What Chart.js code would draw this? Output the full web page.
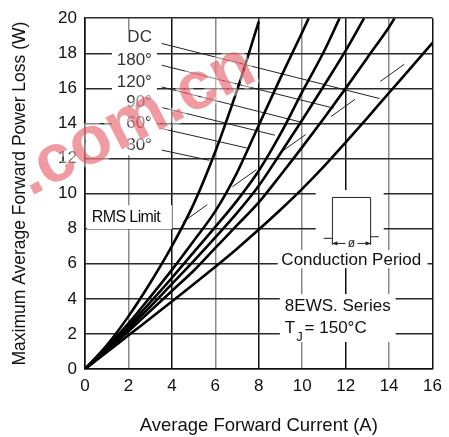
<!DOCTYPE html>
<html>
<head>
<meta charset="utf-8">
<script src="https://cdn.jsdelivr.net/npm/chart.js@4.4.1/dist/chart.umd.min.js"></script>
<style>
  html, body { margin: 0; padding: 0; background: #fff; overflow: hidden; }
  #wrap { width: 449px; height: 437px; }
</style>
</head>
<body>
<div id="wrap"><canvas id="chart"></canvas></div>
<script>
// axis ticks
const currentTicks = [0, 2, 4, 6, 8, 10, 12, 14, 16];
const lossTicks = [0, 2, 4, 6, 8, 10, 12, 14, 16, 18, 20];

// curves: average current (A) -> power loss (W)
const current30 = [0, 1, 2, 3, 4, 5, 6, 7, 8];
const loss30 = [0, 1.35, 3.0, 4.9, 7.0, 9.4, 12.4, 15.9, 19.8];
const current60 = [0, 1, 2, 3, 4, 5, 6, 7, 8, 9, 10, 10.3];
const loss60 = [0, 1.25, 2.6, 4.1, 5.65, 7.3, 9.0, 11.2, 13.9, 16.6, 19.2, 20];
const current90 = [0, 1, 2, 3, 4, 5, 6, 7, 8, 9, 10, 11, 11.72];
const loss90 = [0, 1.2, 2.45, 3.8, 5.2, 6.65, 8.1, 9.6, 11.3, 13.4, 15.8, 18.1, 20];
const current120 = [0, 1, 2, 3, 4, 5, 6, 7, 8, 9, 10, 11, 12, 12.85];
const loss120 = [0, 1.15, 2.3, 3.55, 4.85, 6.15, 7.5, 8.9, 10.45, 12.3, 14.2, 16.15, 18.15, 20];
const current180 = [0, 1, 2, 3, 4, 5, 6, 7, 8, 9, 10, 11, 12, 13, 14, 14.25];
const loss180 = [0, 1.05, 2.15, 3.3, 4.45, 5.6, 6.9, 8.2, 9.5, 11.05, 12.65, 14.3, 16.0, 17.75, 19.5, 20];
const currentDC = [0, 1, 2, 3, 4, 5, 6, 7, 8, 9, 10, 11, 12, 13, 14, 15, 16];
const lossDC = [0, 0.95, 1.92, 2.88, 3.85, 4.83, 5.83, 6.86, 7.95, 9.08, 10.27, 11.55, 12.92, 14.32, 15.75, 17.17, 18.6];

// curve labels and their leader lines (A / W)
const curveLabels = ["DC", "180°", "120°", "90°", "60°", "30°"];
const labelLoss = [18.93, 17.59, 16.37, 15.23, 14.03, 12.76];
const leaderStartX = [3.53, 3.53, 3.53, 3.53, 3.53, 3.53];
const leaderStartY = [18.56, 17.32, 16.08, 14.91, 13.71, 12.48];
const leaderEndX = [13.56, 11.45, 9.89, 8.74, 7.45, 5.72];
const leaderEndY = [15.42, 14.87, 14.09, 13.33, 12.6, 11.9];

// RMS limit line
const rmsCurrent = [4.52, 14.82];
const rmsLoss = [8.39, 17.48];

const FONT = '"Liberation Sans", Arial, sans-serif';
const toPts = (xs, ys) => xs.map((x, i) => ({ x: x, y: ys[i] }));

function curve(xs, ys) {
    return {
        data: toPts(xs, ys),
        borderColor: "#000",
        borderWidth: 2.6,
        pointRadius: 0,
        cubicInterpolationMode: "monotone",
        fill: false
    };
}

const datasets = [
    curve(current30, loss30),
    curve(current60, loss60),
    curve(current90, loss90),
    curve(current120, loss120),
    curve(current180, loss180),
    curve(currentDC, lossDC)
];

leaderStartX.forEach((x, i) => {
    datasets.push({
        data: [{ x: x, y: leaderStartY[i] }, { x: leaderEndX[i], y: leaderEndY[i] }],
        borderColor: "#222",
        borderWidth: 1,
        pointRadius: 0
    });
});

datasets.push({
    data: toPts(rmsCurrent, rmsLoss),
    borderColor: "#222",
    borderWidth: 1,
    borderDash: [29.5, 31],
    pointRadius: 0
});

// white boxes behind the texts (A / W corners)
const boxes = [
    [1.24, 19.32, 3.31, 12.19],
    [0.09, 9.34, 4.0, 7.98],
    [10.62, 10.2, 13.75, 6.78],
    [8.87, 6.78, 15.77, 5.75],
    [8.97, 4.27, 14.3, 1.54]
];

const notes = {
    id: "notes",
    beforeDatasetsDraw(chart) {
        const { ctx, scales: { x, y } } = chart;
        ctx.save();
        ctx.fillStyle = "#fff";
        boxes.forEach(b => {
            const x0 = x.getPixelForValue(b[0]), y0 = y.getPixelForValue(b[1]);
            const x1 = x.getPixelForValue(b[2]), y1 = y.getPixelForValue(b[3]);
            ctx.fillRect(x0, y0, x1 - x0, y1 - y0);
        });
        ctx.restore();
    },
    afterDatasetsDraw(chart) {
        const { ctx, scales: { x, y } } = chart;
        const px = v => x.getPixelForValue(v);
        const py = v => y.getPixelForValue(v);
        ctx.save();
        ctx.textBaseline = "middle";

        // curve labels
        ctx.font = "17px " + FONT;
        ctx.fillStyle = "#333";
        ctx.textAlign = "right";
        curveLabels.forEach((t, i) => ctx.fillText(t, px(3.08), py(labelLoss[i])));

        ctx.fillStyle = "#111";
        ctx.textAlign = "left";
        ctx.font = "16px " + FONT;
        ctx.letterSpacing = "-0.6px";
        ctx.fillText("RMS Limit", px(0.31), py(8.64));
        ctx.letterSpacing = "0px";

        ctx.font = "17px " + FONT;
        ctx.fillText("Conduction Period", px(9.04), py(6.21));
        ctx.fillText("8EWS. Series", px(9.2), py(3.55));
        ctx.fillText("T", px(9.2), py(2.32));
        ctx.font = "13px " + FONT;
        ctx.fillText("J", px(9.72), py(1.82));
        ctx.font = "17px " + FONT;
        ctx.fillText("= 150°C", px(10.11), py(2.32));

        // conduction period sketch
        ctx.strokeStyle = "#222";
        ctx.lineWidth = 1;
        const L = px(11.39), R = px(13.15), T = py(9.78);
        const baseL = py(7.45), baseR = py(7.54), low = py(7.07), arr = py(7.16);
        ctx.beginPath();
        ctx.moveTo(px(10.99), baseL); ctx.lineTo(L, baseL);
        ctx.moveTo(L, low); ctx.lineTo(L, T); ctx.lineTo(R, T); ctx.lineTo(R, low);
        ctx.moveTo(R, baseR); ctx.lineTo(px(13.53), baseR);
        const mid = (L + R) / 2;
        ctx.moveTo(L, arr); ctx.lineTo(mid - 6, arr);
        ctx.moveTo(mid + 6, arr); ctx.lineTo(R, arr);
        ctx.stroke();
        ctx.fillStyle = "#222";
        ctx.beginPath();
        ctx.moveTo(L, arr); ctx.lineTo(L + 5, arr - 2.2); ctx.lineTo(L + 5, arr + 2.2); ctx.closePath();
        ctx.moveTo(R, arr); ctx.lineTo(R - 5, arr - 2.2); ctx.lineTo(R - 5, arr + 2.2); ctx.closePath();
        ctx.fill();
        ctx.font = "12px " + FONT;
        ctx.textAlign = "center";
        ctx.fillText("ø", mid, arr);
        ctx.restore();
    },
    afterDraw(chart) {
        // red site watermark
        const ctx = chart.ctx;
        ctx.save();
        ctx.translate(136, 121);
        ctx.rotate(-0.475);
        ctx.font = "bold 68px " + FONT;
        ctx.textAlign = "center";
        ctx.textBaseline = "middle";
        ctx.lineJoin = "round";
        ctx.strokeStyle = "rgba(255, 255, 255, 0.45)";
        ctx.lineWidth = 8;
        ctx.strokeText(".com.cn", 0, 0);
        ctx.fillStyle = "rgba(228, 72, 84, 0.55)";
        ctx.fillText(".com.cn", 0, 0);
        ctx.restore();
    }
};

new Chart(document.getElementById("chart"), {
    type: "line",
    data: { datasets: datasets },
    options: {
        responsive: true,
        maintainAspectRatio: false,
        animation: false,
        layout: { padding: { top: 18, right: 16, left: 0, bottom: 0 } },
        plugins: { legend: { display: false }, tooltip: { enabled: false } },
        scales: {
            x: {
                type: "linear",
                min: 0,
                max: 16,
                afterFit: s => { s.height = 68; },
                afterBuildTicks: s => { s.ticks = currentTicks.map(v => ({ value: v })); },
                ticks: { padding: 7, color: "#111", font: { family: FONT, size: 17 } },
                grid: {
                    drawTicks: false,
                    lineWidth: 1.5,
                    color: c => (c.tick && c.tick.value % 4 === 0) ? "#111" : "#8a8a8a"
                },
                border: { color: "#111", width: 1.5 },
                title: {
                    display: true,
                    text: "Average Forward Current (A)",
                    color: "#111",
                    font: { family: FONT, size: 18.5 },
                    padding: { top: 0, bottom: 0 }
                }
            },
            y: {
                type: "linear",
                min: 0,
                max: 20,
                afterFit: s => { s.width = 85; },
                afterBuildTicks: s => { s.ticks = lossTicks.map(v => ({ value: v })); },
                ticks: { padding: 8, color: "#111", font: { family: FONT, size: 17 } },
                grid: { drawTicks: false, lineWidth: 1.5, color: "#2a2a2a" },
                border: { color: "#111", width: 1.5 },
                title: {
                    display: true,
                    text: "Maximum Average Forward Power Loss (W)",
                    color: "#111",
                    font: { family: FONT, size: 17.5 },
                    padding: { top: 10, bottom: 0 }
                }
            }
        }
    },
    plugins: [notes]
});
</script>
</body>
</html>
